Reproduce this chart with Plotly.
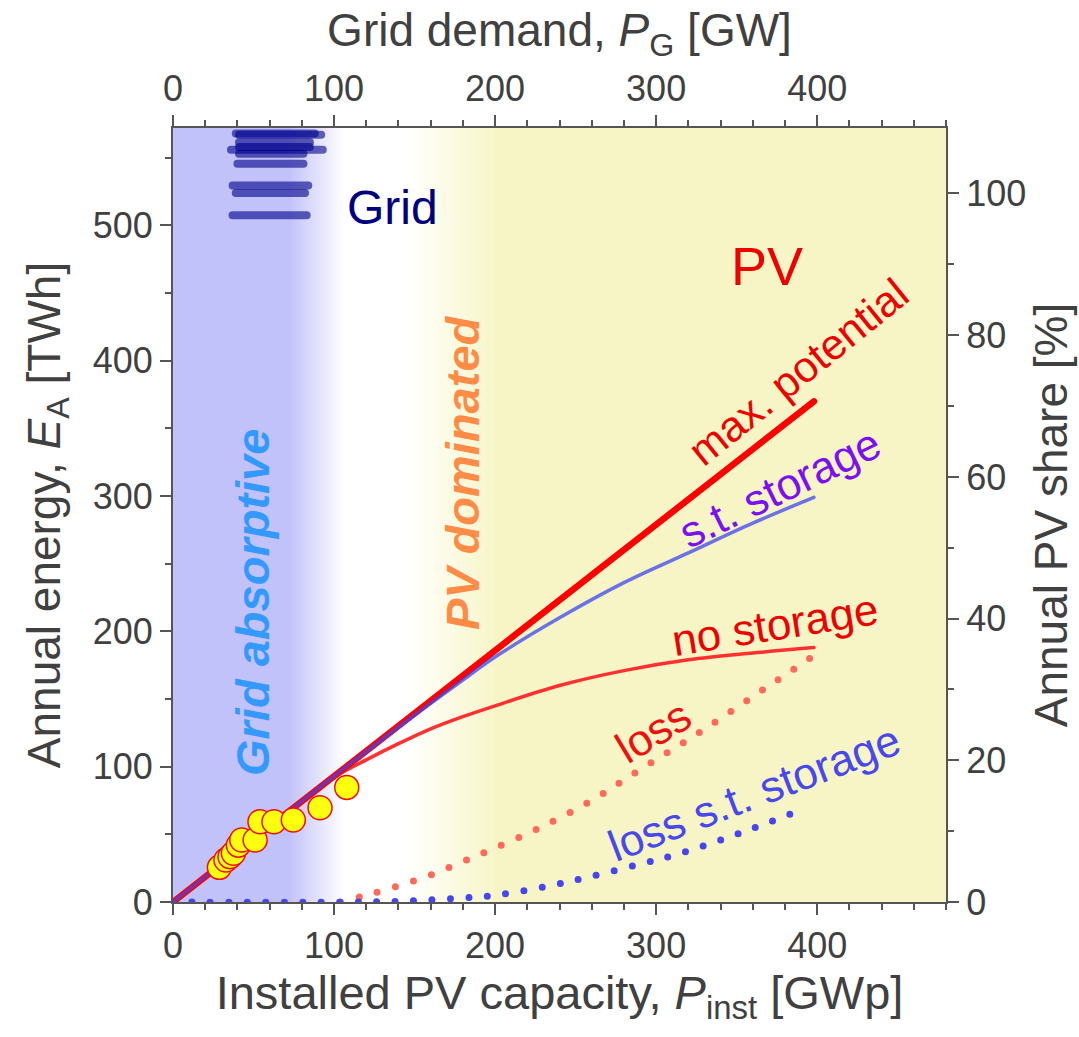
import numpy as np
import plotly.graph_objects as go

# --- data (P in GWp / GW, E in TWh) ---
# max. potential (thick red)
p_max = [0, 398]
e_max = [0, 370]
# with short-term storage (blue)
p_st = [0, 100, 150, 180, 200, 240, 280, 320, 360, 398]
e_st = [0, 93, 138, 164, 181, 210, 236, 258, 280, 299]
# no storage (thin red)
p_ns = [0, 100, 120, 140, 160, 180, 200, 240, 280, 320, 360, 398]
e_ns = [0, 92, 105, 117, 128, 137, 145, 160, 171, 179, 184, 188]
# loss without storage (red dots)
p_loss = [104, 120, 140, 160, 180, 200, 228, 260, 289, 329, 369, 398]
e_loss = [0, 5, 12, 20, 30, 40, 55, 75, 97, 127, 159, 182]
# loss with s.t. storage (blue dots)
p_loss_st = [0, 120, 150, 180, 200, 236, 260, 290, 315, 350, 392]
e_loss_st = [0, 0, 1, 3, 5, 12.5, 19, 28, 36, 50, 69]
# historic PV yield (yellow circles)
pv_cap = [28.8, 32.9, 35.4, 37.5, 40.6, 42.7, 51, 54, 62.7, 74.7, 91.3, 107.9]
pv_energy = [25.6, 31, 33.5, 36, 42, 45.8, 45.8, 59.3, 59.3, 60.6, 69.6, 84.7]
# grid demand ranges per year (top axis, GW) at annual energy E
grid_e = [568, 567, 561.5, 558, 556, 553, 545.5, 529.5, 524, 507.5]
grid_pmin = [39, 41, 41, 41, 36, 41, 40, 37, 39, 37]
grid_pmax = [88, 92, 85, 85, 93, 81, 81, 84, 82, 83]

# background colour stops along the capacity axis
bg_pos = [0, 72, 106, 146, 202, 480]
bg_col = ['#c2c2fa', '#c2c2fa', '#ffffff', '#ffffff', '#f7f5c6', '#f7f5c6']

E_TOP = 572          # top of energy axis [TWh]
E_100 = 523.6        # annual demand = 100 % PV share

fig = go.Figure()

# background gradient
bg_x = np.arange(0, 481, 4)
fig.add_trace(go.Heatmap(
    x=bg_x, y=[0, E_TOP], z=[bg_x, bg_x], zmin=0, zmax=480,
    colorscale=[[p / 480, c] for p, c in zip(bg_pos, bg_col)],
    zsmooth='best', showscale=False, hoverinfo='skip'
))

# grid demand bars
for e, a, b in zip(grid_e, grid_pmin, grid_pmax):
    fig.add_trace(go.Scatter(
        x=[a, b], y=[e, e], xaxis='x2', mode='lines',
        line=dict(color='#00008b', width=8), opacity=0.6, hoverinfo='skip'
    ))

# loss curves (dotted)
fig.add_trace(go.Scatter(x=p_loss, y=e_loss, mode='lines', line_shape='spline',
                         line=dict(color='#ff6a5a', width=7, dash='0px,19px')))
fig.add_trace(go.Scatter(x=p_loss_st, y=e_loss_st, mode='lines', line_shape='spline',
                         line=dict(color='#4646ee', width=7, dash='0px,18.5px')))
# energy curves
fig.add_trace(go.Scatter(x=p_ns, y=e_ns, mode='lines', line_shape='spline',
                         line=dict(color='#ff3030', width=3.5)))
fig.add_trace(go.Scatter(x=p_max, y=e_max, mode='lines',
                         line=dict(color='#ff0000', width=6.5)))
fig.add_trace(go.Scatter(x=p_st, y=e_st, mode='lines', line_shape='spline',
                         line=dict(color='rgba(60,70,240,0.75)', width=3.5)))
# historic data
fig.add_trace(go.Scatter(x=pv_cap, y=pv_energy, mode='markers',
                         marker=dict(size=24, color='#ffff10',
                                     line=dict(color='#ee1010', width=1.5))))
# right axis carrier
fig.add_trace(go.Scatter(x=[0], y=[0], yaxis='y2', mode='markers',
                         marker=dict(opacity=0), hoverinfo='skip'))

axis_style = dict(
    showline=True, linecolor='#555555', linewidth=2, mirror=False,
    ticks='outside', ticklen=11, tickwidth=2, tickcolor='#555555',
    showgrid=False, zeroline=False, automargin=False,
    tickfont=dict(size=36, color='#404040'),
)
title_font = dict(size=46, color='#404040')
minor = dict(ticks='outside', ticklen=6, tickwidth=2, tickcolor='#555555')

fig.update_layout(
    width=1079, height=1037,
    margin=dict(l=173, r=133, t=128, b=135),
    paper_bgcolor='white', plot_bgcolor='white',
    font=dict(family='Liberation Sans, Arial, sans-serif', color='#404040'),
    showlegend=False,
    xaxis=dict(range=[0, 480], dtick=100, minor=dict(dtick=20, **minor),
               title=dict(text='Installed PV capacity, <i>P</i><sub>inst</sub> [GWp]',
                          font=dict(size=47, color='#404040'), standoff=0),
               **axis_style),
    xaxis2=dict(range=[0, 480], dtick=100, overlaying='x', side='top', anchor='y',
                minor=dict(dtick=20, **minor),
                title=dict(text='Grid demand, <i>P</i><sub>G</sub> [GW]',
                           font=title_font, standoff=6),
                **axis_style),
    yaxis=dict(range=[0, E_TOP], dtick=100, minor=dict(dtick=50, **minor),
               title=dict(text='Annual energy, <i>E</i><sub>A</sub> [TWh]',
                          font=title_font, standoff=18),
               **axis_style),
    yaxis2=dict(range=[0, E_TOP / E_100 * 100], dtick=20, overlaying='y', side='right', anchor='x',
                minor=dict(dtick=10, **minor),
                title=dict(text='Annual PV share [%]', font=title_font, standoff=10),
                **axis_style),
)

# text labels
labels = [
    ('Grid', 136, 513, 0, 48, '#00007f'),
    ('PV', 369, 470, 0, 54, '#ee0000'),
    ('<b><i>Grid absorptive</i></b>', 49.7, 221, -90, 47, '#3399ff'),
    ('<b><i>PV dominated</i></b>', 179.5, 317, -90, 47, '#ff8c46'),
    ('max. potential', 388, 392, -39, 43, '#ee0000'),
    ('s.t. storage', 377, 306, -26, 44, '#7b10f0'),
    ('no storage', 374, 205, -9, 44, '#ee0000'),
    ('loss', 298, 126, -31, 44, '#ee1010'),
    ('loss s.t. storage', 361, 81, -21, 44, '#4848ee'),
]
for txt, x, y, ang, size, col in labels:
    fig.add_annotation(x=x, y=y, xref='x', yref='y', text=txt, showarrow=False,
                       textangle=ang, font=dict(size=size, color=col))

post = ("var s=document.createElement('style');"
        "s.innerHTML='body{margin:0}.scatterlayer path.js-line{stroke-linecap:round}';"
        "document.head.appendChild(s);")
fig.write_html("out.html", post_script=post, config={'displayModeBar': False})
